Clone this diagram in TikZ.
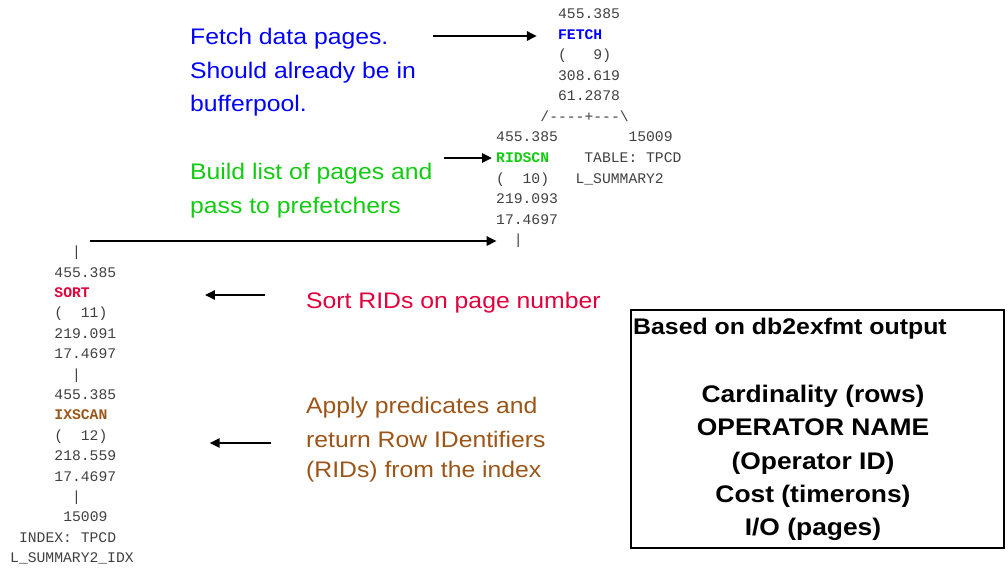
\documentclass[tikz,border=0pt]{standalone}
\usepackage{fontspec}
\usepackage{xcolor}
\setmonofont{Liberation Mono}
\newfontfamily\notefont[FakeStretch=1.1]{Liberation Sans}
\usetikzlibrary{positioning,calc,arrows.meta}
\definecolor{planc}{gray}{0.25}
\definecolor{fetchc}{HTML}{0000FF}
\definecolor{ridc}{HTML}{11CC11}
\definecolor{sortc}{HTML}{E0003C}
\definecolor{ixc}{HTML}{9C5518}
\newcommand\opname[2]{\textcolor{#1}{\bfseries #2}}
\tikzset{
  plan/.style={font=\ttfamily\fontsize{14.7}{20.5}\selectfont, text=planc, inner sep=0pt, anchor=west, text height=9.3pt, text depth=0pt},
  note/.style={font=\notefont\fontsize{22.5}{33.5}\selectfont, align=left, inner sep=0pt, anchor=north west},
  keytxt/.style={font=\notefont\bfseries\fontsize{24}{33.3}\selectfont, align=center, inner sep=0pt},
  arr/.style={-{Triangle[length=10pt,width=9pt]}, line width=2.6pt}}

\begin{document}
\begin{tikzpicture}[x=1pt, y=-1pt]
\useasboundingbox (0,0) rectangle (1008,571);
% upper part of the plan
\foreach \c/\t [count=\r from 0] in {7/455.385, 7/{\opname{fetchc}{FETCH}}, 7/(~~~9), 7/308.619, 7/61.2878, 5/{/----+---\textbackslash}, 0/455.385~~~~~~~~15009, 0/{\opname{ridc}{RIDSCN}~~~~TABLE: TPCD}, 0/(~~10)~~~L\_SUMMARY2, 0/219.093, 0/17.4697, 2/|}
  \node[plan] (top\r) at (496+8.85*\c, 14+20.55*\r) {\t};
% lower part of the plan
\foreach \c/\t [count=\r from 0] in {7/|, 5/455.385, 5/{\opname{sortc}{SORT}}, 5/(~~11), 5/219.091, 5/17.4697, 7/|, 5/455.385, 5/{\opname{ixc}{IXSCAN}}, 5/(~~12), 5/218.559, 5/17.4697, 7/|, 6/15009, 1/INDEX: TPCD, 0/L\_SUMMARY2\_IDX}
  \node[plan] (low\r) at (10+8.85*\c, 252+20.4*\r) {\t};
% notes
\node[note, text=fetchc] (fetchnote) at (190,28) {Fetch data pages.\\Should already be in\\bufferpool.};
\node[note, text=ridc] (ridnote) at (190,163) {Build list of pages and\\pass to prefetchers};
\node[note, text=sortc] (sortnote) at (306,292) {Sort RIDs on page number};
\node[note, text=ixc] (ixnote) at (306,397) {Apply predicates and\\return Row IDentifiers\\[-3.5pt](RIDs) from the index};
% arrows
\coordinate (fetchtail) at (433,36);
\coordinate (ridtail) at (444,158);
\coordinate (pipetail) at (90,241);
\coordinate (sorttail) at (265,295);
\coordinate (ixtail) at (271,443);
\draw[arr, shorten >=21pt] (fetchtail) -- (fetchtail -| top1.west);
\draw[arr, shorten >=4pt] (ridtail) -- (ridtail -| top7.west);
\draw[arr, shorten >=17pt] (pipetail) -- (pipetail -| top11.west);
\draw[arr, shorten >=115pt] (sorttail) -- (sorttail -| low2.east);
\draw[arr, shorten >=102pt] (ixtail) -- (ixtail -| low8.east);
% key
\node[draw, line width=2pt, minimum width=373pt, minimum height=238pt, inner sep=0pt] (legend) at (817.5,429) {};
\node[keytxt, font=\notefont\bfseries\fontsize{22.6}{30}\selectfont, anchor=north west] (legendtitle) at (633,317.5) {Based on db2exfmt output};
\node[keytxt, anchor=north] (legendrows) at (813,385) {Cardinality (rows)\\OPERATOR NAME\\(Operator ID)\\Cost (timerons)\\I/O (pages)};
\end{tikzpicture}
\end{document}
